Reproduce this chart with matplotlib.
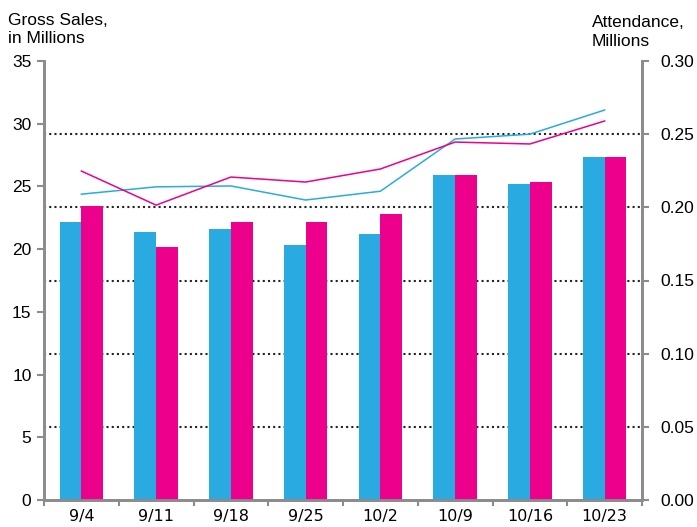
import matplotlib
matplotlib.use("Agg")
import matplotlib.pyplot as plt
from matplotlib.ticker import FixedLocator
import numpy as np

weeks = ["9/4", "9/11", "9/18", "9/25", "10/2", "10/9", "10/16", "10/23"]
sales_blue = [22.2, 21.35, 21.6, 20.3, 21.2, 25.9, 25.2, 27.35]
sales_magenta = [23.4, 20.2, 22.2, 22.2, 22.8, 25.9, 25.35, 27.35]
att_blue = [0.209, 0.214, 0.2146, 0.205, 0.211, 0.2467, 0.250, 0.2665]
att_magenta = [0.2248, 0.2015, 0.2207, 0.2173, 0.2262, 0.2446, 0.2433, 0.259]
left_ticks = [0, 5, 10, 15, 20, 25, 30, 35]
right_ticks = [0.00, 0.05, 0.10, 0.15, 0.20, 0.25, 0.30]

BLUE = "#29ABE2"
MAG = "#EC008C"
GREY = "#8c8c8c"
FS = 12.5

plt.rcParams['font.family'] = ['Liberation Sans', 'DejaVu Sans']

fig = plt.figure(figsize=(6.97, 5.27), dpi=100)
ax = fig.add_axes([44/697, 1-500/527, (642-44)/697, (500-61)/527])
ax2 = ax.twinx()

x = np.arange(len(weeks))
w = 0.29
ax.bar(x - w/2, sales_blue, w, color=BLUE, zorder=3)
ax.bar(x + w/2, sales_magenta, w, color=MAG, zorder=3)

ax.set_xlim(-0.5, len(weeks) - 0.5)
ax.set_ylim(0, 35)
ax2.set_ylim(0, 0.30)

ax2.plot(x, att_blue, color=BLUE, lw=1.1, zorder=4)
ax2.plot(x, att_magenta, color=MAG, lw=1.1, zorder=4)

# gridlines at right-axis ticks, drawn behind bars on the left axis
ax.yaxis.set_minor_locator(FixedLocator([t * 35 / 0.30 for t in right_ticks]))
ax.grid(which='minor', axis='y', color='#222222', linestyle=(0, (1, 1.5)), lw=1.5, zorder=1)
ax.grid(which='major', visible=False)
ax.set_axisbelow(True)
ax.tick_params(axis='y', which='minor', length=0)

ax.set_yticks(left_ticks)
ax.set_yticklabels([str(v) for v in left_ticks], fontsize=FS)
ax2.set_yticks(right_ticks)
ax2.set_yticklabels([f"{v:.2f}" for v in right_ticks], fontsize=FS)

ax.set_xticks(x)
ax.set_xticklabels(weeks, fontsize=11.5, family=['DejaVu Sans'])
ax.set_xticks(np.arange(len(weeks) + 1) - 0.5, minor=True)
ax.tick_params(axis='x', which='major', length=0, pad=6.5)
ax.tick_params(axis='x', which='minor', length=4, width=1.5, color=GREY)
ax.tick_params(axis='y', which='major', length=5, width=1.5, color=GREY, pad=4)
ax2.tick_params(axis='y', which='major', length=5, width=1.5, color=GREY, pad=8)

for a in (ax, ax2):
    a.spines['top'].set_visible(False)
    for s in ('left', 'right', 'bottom'):
        a.spines[s].set_color(GREY)
        a.spines[s].set_linewidth(2)

fig.text(8/697, 1-25/527, "Gross Sales,", fontsize=FS, ha='left', va='baseline')
fig.text(8/697, 1-43/527, "in Millions", fontsize=FS, ha='left', va='baseline')
fig.text(592/697, 1-27/527, "Attendance,", fontsize=FS, ha='left', va='baseline')
fig.text(592/697, 1-46/527, "Millions", fontsize=FS, ha='left', va='baseline')

fig.savefig("out.png", dpi=100)
